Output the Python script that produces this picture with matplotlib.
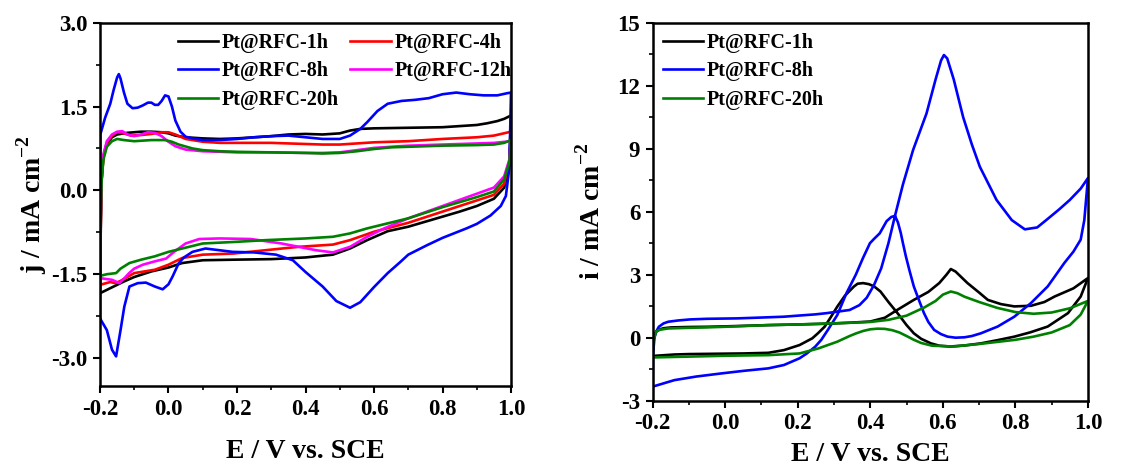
import matplotlib
matplotlib.use('Agg')
import matplotlib.pyplot as plt
from matplotlib.ticker import MultipleLocator

plt.rcParams['font.family'] = ['Liberation Serif', 'DejaVu Serif']
plt.rcParams['font.weight'] = 'bold'
plt.rcParams['axes.labelweight'] = 'bold'
plt.rcParams['axes.unicode_minus'] = False
plt.rcParams['mathtext.fontset'] = 'custom'
plt.rcParams['mathtext.rm'] = 'Liberation Serif'
plt.rcParams['mathtext.bf'] = 'Liberation Serif:bold'

# ---- left panel: CV in acid (j / mA cm-2), forward + backward scans ----
e_1h_f = [-0.2, -0.198, -0.195, -0.19, -0.18, -0.165, -0.15, -0.12, -0.08, -0.05, -0.02, 0.0, 0.02, 0.05, 0.1,
          0.15, 0.2, 0.25, 0.3, 0.35, 0.4, 0.45, 0.5, 0.53, 0.56, 0.6, 0.7, 0.8, 0.85, 0.9, 0.93, 0.96, 0.98, 1.0]
j_1h_f = [-1.84, -0.8, 0.2, 0.6, 0.83, 0.95, 1.0, 1.03, 1.05, 1.05, 1.04, 1.02, 0.98, 0.95, 0.93,
          0.92, 0.93, 0.95, 0.97, 1.0, 1.01, 1.0, 1.02, 1.07, 1.1, 1.11, 1.12, 1.13, 1.15, 1.17, 1.2, 1.24, 1.28, 1.34]
e_1h_b = [1.0, 0.995, 0.98, 0.95, 0.9, 0.85, 0.8, 0.75, 0.7, 0.64, 0.58, 0.53, 0.48, 0.4, 0.3, 0.19, 0.1,
          0.04, 0.0, -0.05, -0.1, -0.13, -0.16, -0.2]
j_1h_b = [1.34, 0.45, 0.05, -0.15, -0.28, -0.38, -0.47, -0.56, -0.65, -0.73, -0.89, -1.04, -1.15, -1.2, -1.23,
          -1.24, -1.25, -1.30, -1.38, -1.45, -1.55, -1.63, -1.72, -1.84]

e_4h_f = [-0.2, -0.198, -0.195, -0.19, -0.18, -0.165, -0.15, -0.13, -0.11, -0.08, -0.05, -0.02, 0.0, 0.02, 0.05,
          0.1, 0.15, 0.2, 0.3, 0.4, 0.45, 0.5, 0.55, 0.6, 0.7, 0.8, 0.9, 0.95, 1.0]
j_4h_f = [-1.69, -0.7, 0.2, 0.6, 0.85, 0.98, 1.04, 1.02, 0.98, 0.99, 1.01, 1.04, 1.04, 1.0, 0.92,
          0.87, 0.85, 0.85, 0.85, 0.83, 0.82, 0.82, 0.84, 0.86, 0.88, 0.92, 0.95, 0.98, 1.05]
e_4h_b = [1.0, 0.995, 0.98, 0.95, 0.9, 0.85, 0.8, 0.7, 0.6, 0.53, 0.48, 0.38, 0.3, 0.19, 0.1, 0.04, 0.0,
          -0.04, -0.1, -0.14, -0.155, -0.17, -0.2]
j_4h_b = [1.05, 0.5, 0.12, -0.08, -0.18, -0.28, -0.38, -0.58, -0.74, -0.89, -0.97, -1.01, -1.06, -1.13, -1.15,
          -1.21, -1.33, -1.42, -1.48, -1.62, -1.66, -1.64, -1.69]

e_8h_f = [-0.2, -0.199, -0.185, -0.17, -0.16, -0.15, -0.145, -0.14, -0.13, -0.12, -0.105, -0.09, -0.075, -0.06,
          -0.05, -0.04, -0.03, -0.02, -0.01, 0.0, 0.01, 0.02, 0.035, 0.05, 0.07, 0.1, 0.15, 0.2, 0.25, 0.3, 0.35,
          0.4, 0.45, 0.5, 0.53, 0.56, 0.58, 0.61, 0.64, 0.68, 0.72, 0.76, 0.8, 0.84, 0.88, 0.92, 0.96, 0.99, 1.0]
j_8h_f = [-2.29, 1.0, 1.3, 1.55, 1.8, 2.02, 2.08, 2.0, 1.75, 1.55, 1.47, 1.48, 1.52, 1.57,
          1.57, 1.53, 1.53, 1.6, 1.7, 1.68, 1.5, 1.25, 1.05, 0.96, 0.93, 0.9, 0.9, 0.92, 0.95, 0.97, 0.98,
          0.95, 0.92, 0.92, 0.98, 1.1, 1.22, 1.42, 1.55, 1.6, 1.62, 1.65, 1.72, 1.75, 1.72, 1.7, 1.7, 1.74, 1.75]
e_8h_b = [1.0, 0.995, 0.985, 0.97, 0.94, 0.9, 0.87, 0.8, 0.755, 0.7, 0.677, 0.64, 0.6, 0.56, 0.53, 0.49, 0.45,
          0.4, 0.363, 0.314, 0.25, 0.187, 0.108, 0.07, 0.045, 0.03, 0.012, 0.0, -0.017, -0.04, -0.066, -0.09,
          -0.114, -0.129, -0.14, -0.153, -0.165, -0.18, -0.2]
j_8h_b = [1.75, 0.4, -0.1, -0.28, -0.45, -0.6, -0.68, -0.85, -0.98, -1.15, -1.28, -1.48, -1.73, -2.0, -2.10,
          -1.98, -1.72, -1.46, -1.25, -1.15, -1.11, -1.10, -1.04, -1.1, -1.2, -1.3, -1.54, -1.68, -1.77, -1.72,
          -1.65, -1.66, -1.72, -2.08, -2.5, -2.97, -2.85, -2.5, -2.29]

e_12h_f = [-0.2, -0.198, -0.195, -0.19, -0.18, -0.165, -0.15, -0.135, -0.12, -0.1, -0.08, -0.06, -0.04, -0.02,
           0.0, 0.02, 0.05, 0.1, 0.15, 0.2, 0.3, 0.4, 0.45, 0.5, 0.55, 0.6, 0.65, 0.7, 0.8, 0.9, 0.95, 1.0]
j_12h_f = [-1.57, -0.5, 0.3, 0.65, 0.88, 1.0, 1.05, 1.06, 1.0, 0.97, 1.0, 1.04, 1.03, 0.97,
           0.87, 0.79, 0.73, 0.7, 0.69, 0.68, 0.68, 0.67, 0.67, 0.68, 0.72, 0.76, 0.78, 0.8, 0.82, 0.84, 0.85, 0.88]
e_12h_b = [1.0, 0.995, 0.98, 0.95, 0.9, 0.85, 0.8, 0.7, 0.63, 0.58, 0.53, 0.48, 0.43, 0.38, 0.33, 0.24, 0.15,
           0.09, 0.05, 0.016, -0.007, -0.04, -0.075, -0.1, -0.115, -0.13, -0.143, -0.165, -0.2]
j_12h_b = [0.88, 0.55, 0.25, 0.05, -0.06, -0.17, -0.28, -0.5, -0.68, -0.83, -1.01, -1.11, -1.07, -1.01, -0.95,
           -0.87, -0.86, -0.87, -0.95, -1.1, -1.22, -1.27, -1.33, -1.4, -1.48, -1.58, -1.66, -1.6, -1.57]

e_20h_f = [-0.2, -0.198, -0.195, -0.19, -0.18, -0.165, -0.15, -0.13, -0.1, -0.05, -0.01, 0.01, 0.03, 0.07, 0.1,
           0.15, 0.2, 0.3, 0.4, 0.45, 0.5, 0.55, 0.6, 0.65, 0.7, 0.8, 0.9, 0.95, 0.98, 1.0]
j_20h_f = [-1.53, -0.5, 0.2, 0.55, 0.78, 0.88, 0.92, 0.9, 0.88, 0.9, 0.9, 0.87, 0.82, 0.75, 0.72,
           0.7, 0.69, 0.68, 0.67, 0.66, 0.67, 0.7, 0.74, 0.77, 0.78, 0.8, 0.81, 0.82, 0.85, 0.9]
e_20h_b = [1.0, 0.995, 0.98, 0.95, 0.9, 0.8, 0.7, 0.58, 0.53, 0.48, 0.4, 0.285, 0.2, 0.1, 0.04, 0.0, -0.04,
           -0.08, -0.114, -0.14, -0.153, -0.18, -0.2]
j_20h_b = [0.9, 0.5, 0.2, -0.02, -0.12, -0.3, -0.5, -0.68, -0.77, -0.83, -0.86, -0.89, -0.92, -0.95, -1.04,
           -1.1, -1.18, -1.24, -1.30, -1.4, -1.48, -1.5, -1.53]

# ---- right panel: methanol oxidation (i / mA cm-2) ----
m_1h_ef = [-0.2, -0.199, -0.195, -0.19, -0.18, -0.17, -0.15, -0.1, -0.05, 0.0, 0.12, 0.2, 0.29, 0.35, 0.4, 0.44,
           0.475, 0.52, 0.56, 0.59, 0.61, 0.622, 0.635, 0.65, 0.668, 0.7, 0.724, 0.76, 0.797, 0.843, 0.88, 0.908,
           0.96, 1.0]
m_1h_if = [-0.87, -0.3, 0.1, 0.3, 0.4, 0.45, 0.49, 0.51, 0.52, 0.54, 0.6, 0.63, 0.67, 0.72, 0.77, 0.95,
           1.33, 1.8, 2.18, 2.6, 3.0, 3.27, 3.15, 2.9, 2.6, 2.15, 1.8, 1.6, 1.49, 1.52, 1.7, 1.96,
           2.35, 2.84]
m_1h_eb = [1.0, 0.98, 0.945, 0.889, 0.84, 0.797, 0.75, 0.705, 0.66, 0.62, 0.59, 0.567, 0.54, 0.52, 0.5, 0.475,
           0.45, 0.428, 0.41, 0.396, 0.38, 0.365, 0.355, 0.33, 0.309, 0.29, 0.274, 0.255, 0.24, 0.205, 0.162,
           0.119, 0.05, 0.0, -0.1, -0.14, -0.2]
m_1h_ib = [2.84, 1.96, 1.17, 0.53, 0.25, 0.05, -0.12, -0.27, -0.37, -0.42, -0.38, -0.27, -0.05, 0.21, 0.6, 1.17,
           1.7, 2.2, 2.45, 2.55, 2.6, 2.57, 2.44, 2.0, 1.48, 0.95, 0.52, 0.2, -0.03, -0.35, -0.59,
           -0.72, -0.75, -0.76, -0.78, -0.8, -0.87]

m_8h_ef = [-0.2, -0.199, -0.195, -0.19, -0.183, -0.17, -0.157, -0.13, -0.097, -0.05, 0.033, 0.1, 0.162, 0.2,
           0.248, 0.28, 0.309, 0.343, 0.37, 0.39, 0.41, 0.43, 0.45, 0.468, 0.49, 0.518, 0.555, 0.58, 0.595, 0.603,
           0.612, 0.63, 0.656, 0.68, 0.702, 0.748, 0.79, 0.826, 0.86, 0.885, 0.92, 0.95, 0.98, 1.0]
m_8h_if = [-2.3, -0.8, 0.0, 0.3, 0.52, 0.68, 0.76, 0.82, 0.87, 0.9, 0.92, 0.96, 1.0, 1.05,
           1.11, 1.17, 1.24, 1.32, 1.55, 1.9, 2.5, 3.3, 4.5, 5.8, 7.3, 8.94, 10.68, 12.3, 13.2, 13.46,
           13.3, 12.3, 10.5, 9.2, 8.14, 6.56, 5.6, 5.16, 5.25, 5.6, 6.1, 6.56, 7.1, 7.6]
m_8h_eb = [1.0, 0.99, 0.98, 0.96, 0.935, 0.91, 0.889, 0.843, 0.797, 0.751, 0.705, 0.68, 0.66, 0.635, 0.613,
           0.595, 0.576, 0.56, 0.548, 0.535, 0.52, 0.508, 0.498, 0.49, 0.484, 0.476, 0.468, 0.458, 0.445, 0.426,
           0.41, 0.399, 0.38, 0.36, 0.334, 0.309, 0.283, 0.265, 0.248, 0.225, 0.205, 0.162, 0.119, 0.05, -0.01,
           -0.08, -0.14, -0.2]
m_8h_ib = [7.6, 5.6, 4.67, 4.1, 3.56, 2.95, 2.44, 1.65, 1.0, 0.53, 0.21, 0.08, 0.02, 0.0, 0.05,
           0.17, 0.37, 0.75, 1.17, 1.75, 2.44, 3.2, 3.88, 4.5, 4.99, 5.5, 5.8, 5.75, 5.55, 4.97,
           4.7, 4.5, 3.8, 3.0, 2.11, 1.08, 0.37, -0.1, -0.43, -0.75, -0.98, -1.3, -1.46, -1.58, -1.70,
           -1.85, -2.02, -2.33]

m_20h_ef = [-0.2, -0.199, -0.195, -0.19, -0.18, -0.157, -0.1, -0.053, 0.0, 0.119, 0.2, 0.29, 0.343, 0.4, 0.45,
            0.5, 0.55, 0.58, 0.6, 0.622, 0.64, 0.66, 0.7, 0.75, 0.8, 0.85, 0.9, 0.95, 1.0]
m_20h_if = [-0.94, -0.3, 0.05, 0.3, 0.38, 0.44, 0.47, 0.49, 0.52, 0.6, 0.63, 0.68, 0.71, 0.75, 0.85,
            1.05, 1.45, 1.75, 2.05, 2.2, 2.12, 1.95, 1.7, 1.42, 1.22, 1.14, 1.2, 1.4, 1.75]
m_20h_eb = [1.0, 0.98, 0.95, 0.9, 0.85, 0.8, 0.7, 0.63, 0.57, 0.54, 0.52, 0.5, 0.48, 0.46, 0.44, 0.42, 0.40,
            0.38, 0.36, 0.343, 0.309, 0.257, 0.205, 0.119, 0.0, -0.1, -0.2]
m_20h_ib = [1.75, 1.1, 0.6, 0.25, 0.05, -0.1, -0.3, -0.42, -0.38, -0.25, -0.1, 0.08, 0.25, 0.36, 0.42, 0.43, 0.4,
            0.32, 0.2, 0.08, -0.19, -0.51, -0.75, -0.83, -0.86, -0.9, -0.94]

fig = plt.figure(figsize=(11.44, 4.68), dpi=100)
ax1 = fig.add_axes([0.0874, 0.1752, 0.3593, 0.7763])
ax2 = fig.add_axes([0.5705, 0.1438, 0.3805, 0.8077])

lw = 1.9
left_curves = [
    ('Pt@RFC-1h', 'black', e_1h_f, j_1h_f, e_1h_b, j_1h_b),
    ('Pt@RFC-4h', '#ff0000', e_4h_f, j_4h_f, e_4h_b, j_4h_b),
    ('Pt@RFC-8h', '#0000ff', e_8h_f, j_8h_f, e_8h_b, j_8h_b),
    ('Pt@RFC-12h', '#ff00ff', e_12h_f, j_12h_f, e_12h_b, j_12h_b),
    ('Pt@RFC-20h', '#008000', e_20h_f, j_20h_f, e_20h_b, j_20h_b),
]
handles = {}
for name, c, ef, jf, eb, jb in left_curves:
    h, = ax1.plot(ef + eb, jf + jb, color=c, lw=lw, label=name)
    handles[name] = h

right_curves = [
    ('Pt@RFC-1h', 'black', m_1h_ef, m_1h_if, m_1h_eb, m_1h_ib),
    ('Pt@RFC-8h', '#0000ff', m_8h_ef, m_8h_if, m_8h_eb, m_8h_ib),
    ('Pt@RFC-20h', '#008000', m_20h_ef, m_20h_if, m_20h_eb, m_20h_ib),
]
for name, c, ef, jf, eb, jb in right_curves:
    ax2.plot(ef + eb, jf + jb, color=c, lw=lw, label=name)

# axes styling
for ax in (ax1, ax2):
    ax.set_xlim(-0.2, 1.0)
    ax.xaxis.set_major_locator(MultipleLocator(0.2))
    ax.xaxis.set_minor_locator(MultipleLocator(0.1))
    ax.tick_params(which='major', direction='out', length=5, width=1.5, labelsize=16.5, pad=4)
    ax.tick_params(which='minor', direction='out', length=3, width=1.2)
    ax.tick_params(top=False, right=False)
    for s in ax.spines.values():
        s.set_linewidth(1.8)
    ax.set_xlabel('E / V vs. SCE', fontsize=20)

ax1.set_ylim(-3.5, 3.0)
ax1.set_yticks([-3.0, -1.5, 0.0, 1.5, 3.0])
ax1.set_yticklabels(['-3.0', '-1.5', '0.0', '1.5', '3.0'])
ax1.yaxis.set_minor_locator(MultipleLocator(0.75))
ax1.set_ylabel(r'j / mA cm$^{\mathbf{-2}}$', fontsize=20)
ax1.xaxis.set_label_coords(0.5, -0.145)
ax1.yaxis.set_label_coords(-0.125, 0.5)

ax2.set_ylim(-3, 15)
ax2.yaxis.set_major_locator(MultipleLocator(3))
ax2.yaxis.set_minor_locator(MultipleLocator(1.5))
ax2.set_ylabel(r'i / mA cm$^{\mathbf{-2}}$', fontsize=20)
ax2.xaxis.set_label_coords(0.5, -0.11)
ax2.yaxis.set_label_coords(-0.107, 0.5)

for ax in (ax1, ax2):
    for lab in ax.get_xticklabels() + ax.get_yticklabels():
        lab.set_fontweight('bold')

# legends
order = ['Pt@RFC-1h', 'Pt@RFC-8h', 'Pt@RFC-20h', 'Pt@RFC-4h', 'Pt@RFC-12h']
ax1.legend([handles[k] for k in order], order, ncol=2, loc='upper left', bbox_to_anchor=(0.165, 1.0),
           frameon=False, fontsize=14.5, handlelength=2.0, handletextpad=0.2, columnspacing=0.55,
           labelspacing=0.42, borderaxespad=0.1)
ax2.legend(loc='upper left', frameon=False, fontsize=14.5, handlelength=2.0, handletextpad=0.2,
           labelspacing=0.42, borderaxespad=0.1, bbox_to_anchor=(0.0, 1.0))

plt.savefig('out.png', dpi=100)
